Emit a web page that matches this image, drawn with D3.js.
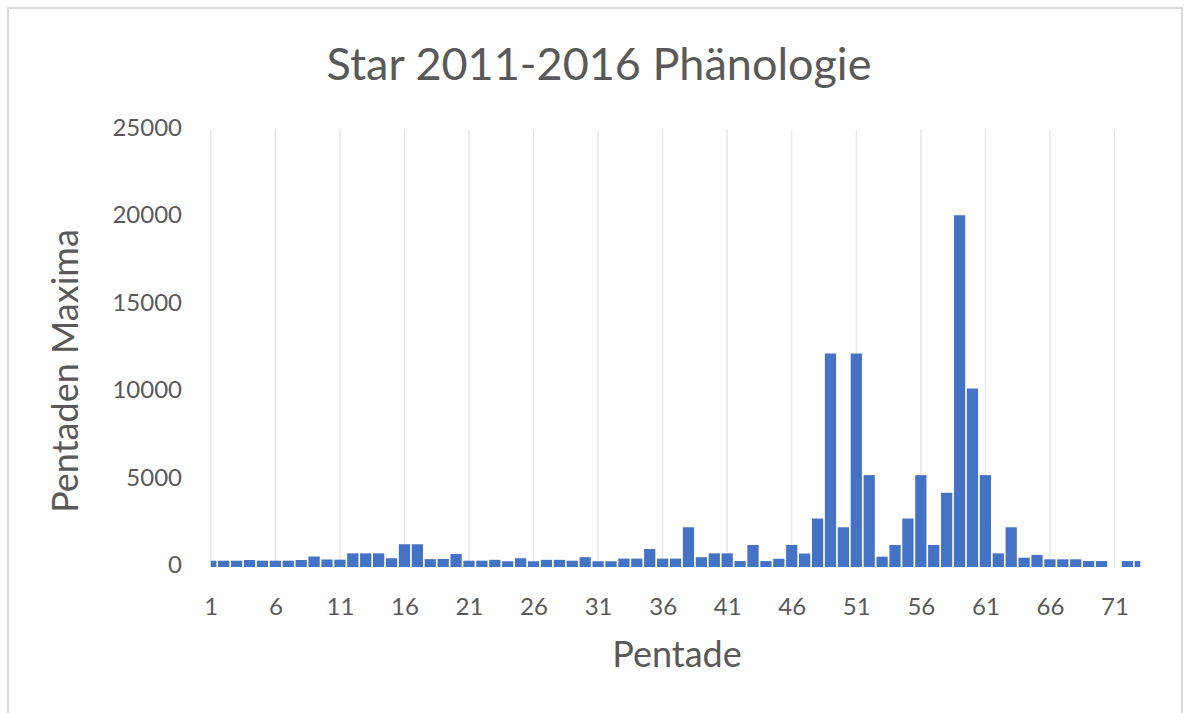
<!DOCTYPE html>
<html><head><meta charset="utf-8">
<script src="https://cdn.jsdelivr.net/npm/d3@7"></script>
<style>body{margin:0;background:#fff;} svg{display:block;}</style>
</head><body>
<svg id="chart" width="1189" height="713"></svg>
<script>
const title = "Star 2011-2016 Phänologie";
const xTitle = "Pentade";
const yTitle = "Pentaden Maxima";
const pentades = d3.range(1, 74);
const maxima = [
  360, 360, 360, 400, 360, 360, 360, 400, 600, 430,
  420, 780, 780, 780, 500, 1300, 1300, 450, 460, 740,
  360, 360, 410, 330, 500, 330, 410, 410, 360, 560,
  330, 330, 480, 480, 1030, 480, 480, 2270, 560, 780,
  780, 340, 1260, 340, 470, 1260, 770, 2770, 12200, 2270,
  12200, 5250, 590, 1260, 2770, 5250, 1260, 4240, 20100, 10200,
  5250, 780, 2270, 530, 690, 440, 440, 440, 340, 340,
  0, 340, 340
];
const yTicks = [0, 5000, 10000, 15000, 20000, 25000];
const xTickLabels = [1, 6, 11, 16, 21, 26, 31, 36, 41, 46, 51, 56, 61, 66, 71];

const data = pentades.map((p, i) => ({p, v: maxima[i]}));
const svg = d3.select("#chart");
const font = "Lato, 'Open Sans', sans-serif";
const txt = "#595959";

// chart border
svg.append("rect").attr("x", 8).attr("y", 8).attr("width", 1174).attr("height", 730)
  .attr("fill", "none").attr("stroke", "#d9d9d9").attr("stroke-width", 2);

const x = d3.scaleLinear().domain([1, 73]).range([210.8, 1140.3]);
const y = d3.scaleLinear().domain([0, 25000]).range([567, 129.5]);
const step = x(2) - x(1);
const bw = step * 0.87;

svg.append("defs").append("clipPath").attr("id", "plotclip")
  .append("rect").attr("x", x(1)).attr("y", y(25000) - 2)
  .attr("width", x(73) - x(1)).attr("height", y(0) - y(25000) + 4);

// vertical gridlines
svg.append("g").selectAll("line").data(xTickLabels).join("line")
  .attr("x1", d => x(d)).attr("x2", d => x(d))
  .attr("y1", y(25000)).attr("y2", y(0))
  .attr("stroke", "#e6e6e6").attr("stroke-width", 1.3);

// bars
svg.append("g").attr("clip-path", "url(#plotclip)")
  .selectAll("rect").data(data.filter(d => d.v > 0)).join("rect")
  .attr("x", d => x(d.p) - bw / 2).attr("width", bw)
  .attr("y", d => y(d.v)).attr("height", d => y(0) - y(d.v))
  .attr("fill", "#4472C4");

// y axis
const yAxis = svg.append("g").attr("transform", "translate(192,-2)")
  .call(d3.axisLeft(y).tickValues(yTicks).tickSize(0).tickPadding(10).tickFormat(d3.format("d")));
yAxis.select(".domain").remove();
yAxis.selectAll("text").attr("font-family", font).attr("font-size", 24).attr("fill", txt);

// x axis
const xAxis = svg.append("g").attr("transform", `translate(0,${y(0)})`)
  .call(d3.axisBottom(x).tickValues(xTickLabels).tickSize(0).tickPadding(31).tickFormat(d3.format("d")));
xAxis.select(".domain").remove();
xAxis.selectAll("text").attr("font-family", font).attr("font-size", 24).attr("fill", txt);

// titles
svg.append("text").attr("x", 599).attr("y", 80).attr("text-anchor", "middle")
  .attr("font-family", font).attr("font-size", 45).attr("fill", txt).text(title);
svg.append("text").attr("x", 677).attr("y", 667).attr("text-anchor", "middle")
  .attr("font-family", font).attr("font-size", 36).attr("fill", txt).text(xTitle);
svg.append("text").attr("transform", "translate(78,371) rotate(-90)").attr("text-anchor", "middle")
  .attr("font-family", font).attr("font-size", 36).attr("fill", txt).text(yTitle);
</script>
</body></html>
